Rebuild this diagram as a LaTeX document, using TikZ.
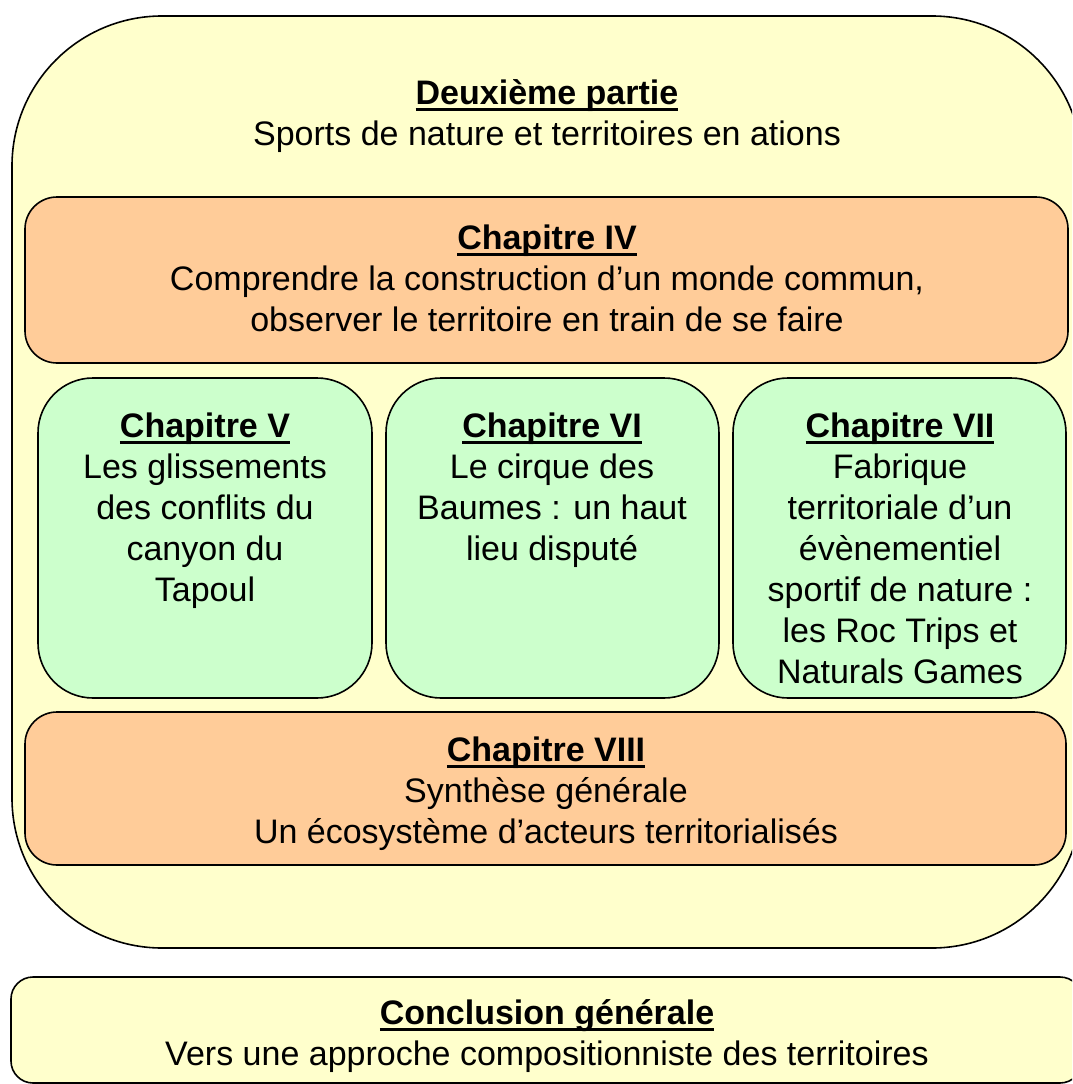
\documentclass[tikz,border=0pt]{standalone}
\usepackage{fontspec}
\setmainfont{Liberation Sans}
\usetikzlibrary{positioning}
\definecolor{partyellow}{HTML}{FFFFCC}
\definecolor{chaporange}{HTML}{FFCC99}
\definecolor{chapgreen}{HTML}{CCFFCC}
% bold title with a thick underline
\newcommand{\ultitle}[1]{\setbox0\hbox{\bfseries #1}\strut\rlap{\rule[-7pt]{\wd0}{3pt}}\box0}

\begin{document}
\begin{tikzpicture}[x=1pt,y=-1pt,
    box/.style={draw=black,line width=1.6pt,rounded corners=#1},
    txt/.style={align=center,anchor=north,inner sep=0pt,font=\fontsize{34}{41}\selectfont}]
  \useasboundingbox (0,0) rectangle (1072,1084);
  \clip (0,0) rectangle (1072,1084);
  % frames
  \draw[box=150,fill=partyellow] (12,16) rectangle (1082,948);
  \draw[box=22,fill=partyellow] (11,977) rectangle (1082,1083);
  \draw[box=32,fill=chaporange] (25,197) rectangle (1068,363);
  \draw[box=32,fill=chaporange] (25,712) rectangle (1066,865);
  \draw[box=55,fill=chapgreen] (38,378) rectangle (372,698);
  \draw[box=55,fill=chapgreen] (386,378) rectangle (719,698);
  \draw[box=55,fill=chapgreen] (733,378) rectangle (1066,698);
  % texts
  \node[txt] (partie) at (547,75.5) {\ultitle{Deuxième partie}\\Sports de nature et territoires en ations};
  \node[txt] (chapIV) at (547,220.5) {\ultitle{Chapitre IV}\\Comprendre la construction d’un monde commun,\\observer le territoire en train de se faire};
  \node[txt] (chapV) at (205,408.5) {\ultitle{Chapitre V}\\Les glissements\\des conflits du\\canyon du\\Tapoul};
  \node[txt] (chapVI) at (552,408.5) {\ultitle{Chapitre VI}\\Le cirque des\\Baumes : un haut\\lieu disputé};
  \node[txt] (chapVII) at (900,408.5) {\ultitle{Chapitre VII}\\Fabrique\\territoriale d’un\\évènementiel\\sportif de nature :\\les Roc Trips et\\Naturals Games};
  \node[txt] (chapVIII) at (546,732.5) {\ultitle{Chapitre VIII}\\Synthèse générale\\Un écosystème d’acteurs territorialisés};
  \node[txt] (concl) at (547,995.5) {\ultitle{Conclusion générale}\\Vers une approche compositionniste des territoires};
\end{tikzpicture}
\end{document}
